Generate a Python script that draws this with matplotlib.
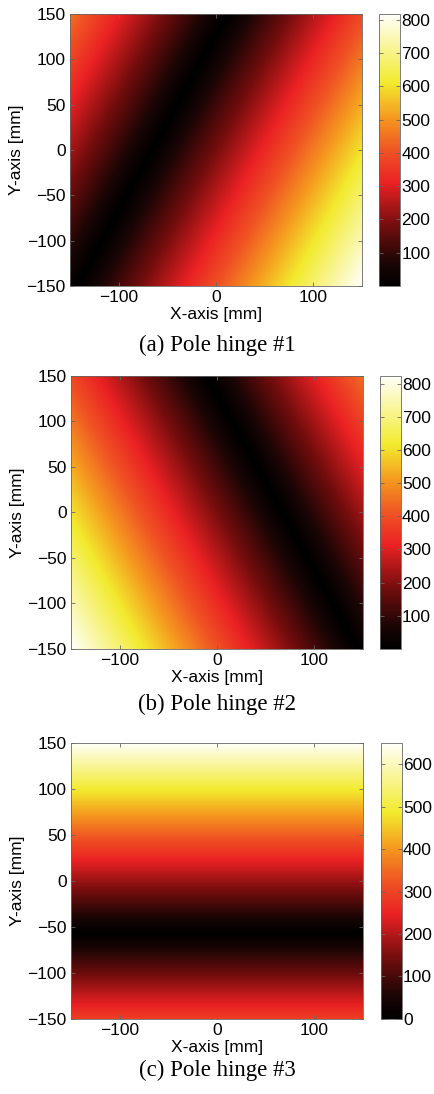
import numpy as np
import matplotlib
matplotlib.use("Agg")
import matplotlib.pyplot as plt
from matplotlib.colors import LinearSegmentedColormap

# Ejes (mm)
x_mm = np.linspace(-150, 150, 301)
y_mm = np.linspace(-150, 150, 301)

esquinas_1 = [-20, 818, -450, 388]
esquinas_2 = [823, -14, 390, -446]
esquinas_3 = [-292, -292, 650, 650]

leyendas = ["(a) Pole hinge #1", "(b) Pole hinge #2", "(c) Pole hinge #3"]
ticks_cb = [[100, 200, 300, 400, 500, 600, 700, 800],
            [100, 200, 300, 400, 500, 600, 700, 800],
            [0, 100, 200, 300, 400, 500, 600]]
ticks_xy = [-100, 0, 100]
ticks_y = [-150, -100, -50, 0, 50, 100, 150]


def campo(esq):
    # campo lineal entre esquinas, luego valor absoluto
    X, Y = np.meshgrid(x_mm, y_mm)
    u = (X + 150) / 300
    v = (Y + 150) / 300
    f = (esq[0] * (1 - u) * (1 - v) + esq[1] * u * (1 - v)
         + esq[2] * (1 - u) * v + esq[3] * u * v)
    return np.abs(f)


colores = [(0.0, (0, 0, 0)),
           (0.08, (0.10, 0.02, 0.02)),
           (0.22, (0.45, 0.05, 0.05)),
           (0.38, (0.92, 0.13, 0.14)),
           (0.50, (0.94, 0.33, 0.14)),
           (0.62, (0.96, 0.60, 0.12)),
           (0.75, (0.95, 0.92, 0.18)),
           (1.0, (1.0, 1.0, 0.98))]
cmap = LinearSegmentedColormap.from_list("hot_mat", colores)

plt.rcParams['font.family'] = ['Liberation Sans', 'DejaVu Sans']

fig = plt.figure(figsize=(4.35, 10.94), dpi=100)

pos_ejes = [[0.161, 0.7386, 0.671, 0.2486],
            [0.163, 0.4068, 0.671, 0.2495],
            [0.163, 0.0686, 0.671, 0.2523]]
pos_cb = [0.871, 0.873, 0.875]
pos_ley = [0.6846, 0.3565, 0.022]

for i, esq in enumerate([esquinas_1, esquinas_2, esquinas_3]):
    z = campo(esq)
    ax = fig.add_axes(pos_ejes[i])
    im = ax.imshow(z, extent=[-150, 150, -150, 150], origin="lower",
                   cmap=cmap, vmin=z.min(), vmax=z.max(), aspect="auto",
                   interpolation="bilinear")
    ax.set_xticks(ticks_xy)
    ax.set_yticks(ticks_y)
    ax.tick_params(direction="in", length=3, labelsize=12.5, top=True, right=True,
                   width=0.6, color="0.4", pad=3)
    for s in ax.spines.values():
        s.set_linewidth(0.6)
        s.set_color("0.4")
    ax.set_xlabel("X-axis [mm]", fontsize=12.5, labelpad=1)
    ax.set_ylabel("Y-axis [mm]", fontsize=12.5, labelpad=2)

    p = pos_ejes[i]
    cax = fig.add_axes([pos_cb[i], p[1], 0.048, p[3]])
    cb = fig.colorbar(im, cax=cax)
    cb.set_ticks(ticks_cb[i])
    cax.tick_params(direction="in", length=3, labelsize=12.5, left=True, right=True,
                    width=0.6, color="0.4", pad=1)
    cb.outline.set_linewidth(0.6)
    cb.outline.set_edgecolor("0.4")

    fig.text(0.5, pos_ley[i], leyendas[i], ha="center", va="center",
             fontsize=16.5, family=["Liberation Serif", "DejaVu Serif"])

fig.savefig("out.png", dpi=100)
